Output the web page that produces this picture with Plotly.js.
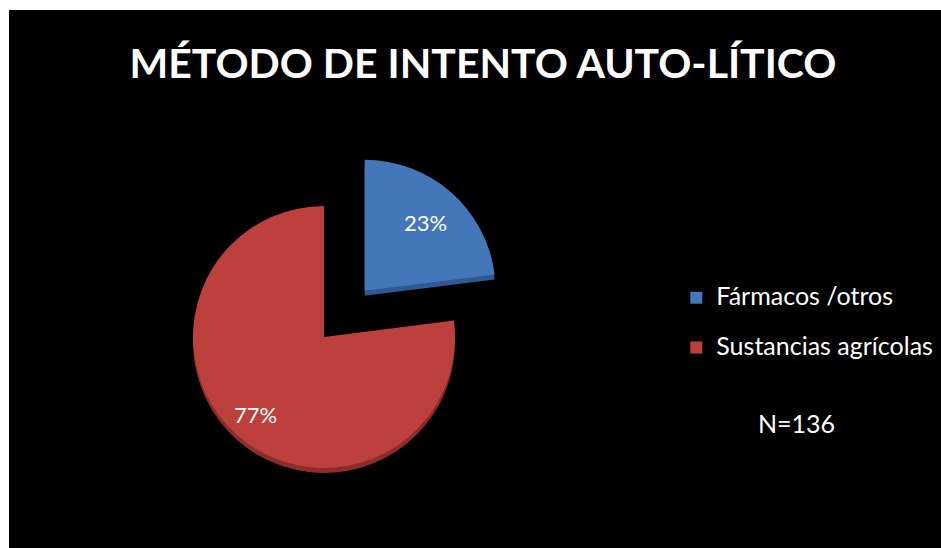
<!DOCTYPE html>
<html>
<head>
<meta charset="utf-8">
<script src="https://cdn.plot.ly/plotly-3.0.1.min.js"></script>
<style>
  html, body { margin: 0; padding: 0; background: #ffffff; width: 941px; height: 548px; overflow: hidden; }
  #chart { position: absolute; left: 9px; top: 10px; width: 932px; height: 538px; }
</style>
</head>
<body>
<div id="chart"></div>
<script>
// Data
const categories = ['Fármacos /otros', 'Sustancias agrícolas'];
const percentages = [23, 77];
const sliceColors = ['#4377BA', '#BD403C'];
const edgeColors = ['#2E5A92', '#8C2D2A'];
const pulls = [0.47, 0];
const chartTitle = 'MÉTODO DE INTENTO AUTO-LÍTICO';
const sampleNote = 'N=136';

const FONT = 'Lato, "Open Sans", "DejaVu Sans", sans-serif';
const W = 932, H = 538;
const dom = { x: [0.13136, 0.54458], y: [0.03426, 0.75013] };
const depthPx = 5;
const domDepth = { x: dom.x.slice(), y: [dom.y[0] - depthPx / H, dom.y[1] - depthPx / H] };

const legendLabels = categories.map(c => '<span style="font-size:25px">' + c + '</span><br>');

// 3D-like rim: same pie drawn slightly lower in darker colours
const depthTrace = {
  type: 'pie',
  labels: legendLabels,
  values: percentages,
  sort: false,
  direction: 'clockwise',
  rotation: 0,
  pull: pulls,
  marker: { colors: edgeColors, line: { width: 0 } },
  textinfo: 'none',
  domain: domDepth,
  showlegend: false,
  hoverinfo: 'none'
};

const trace = {
  type: 'pie',
  labels: legendLabels,
  values: percentages,
  sort: false,
  direction: 'clockwise',
  rotation: 0,
  pull: pulls,
  marker: { colors: sliceColors, line: { width: 0 } },
  textinfo: 'none',
  domain: dom,
  hoverinfo: 'none'
};

// percentage labels placed along each slice's mid-angle (computed from data)
const total = percentages.reduce((a, b) => a + b, 0);
const maxPull = Math.max(...pulls);
const r = Math.min(W * (dom.x[1] - dom.x[0]), H * (dom.y[1] - dom.y[0])) / 2 / (1 + maxPull);
const cx = W * (dom.x[0] + dom.x[1]) / 2;
const cy = H * (1 - (dom.y[0] + dom.y[1]) / 2);
const labelFrac = [0.70, 0.79];
let cum = 0;
const pctAnnotations = percentages.map((v, i) => {
  const mid = (cum + v / 2) / total * 2 * Math.PI;
  cum += v;
  const dx = Math.sin(mid), dy = -Math.cos(mid);
  const px = cx + (pulls[i] + labelFrac[i]) * r * dx;
  const py = cy + (pulls[i] + labelFrac[i]) * r * dy;
  return {
    text: Math.round(v / total * 100) + '%',
    xref: 'paper', yref: 'paper',
    x: px / W, y: 1 - py / H,
    xanchor: 'center', yanchor: 'middle',
    showarrow: false,
    font: { family: FONT, size: 22, color: '#ffffff' }
  };
});

const layout = {
  width: W,
  height: H,
  margin: { l: 0, r: 0, t: 0, b: 0 },
  paper_bgcolor: '#000000',
  plot_bgcolor: '#000000',
  title: {
    text: '<b>' + chartTitle + '</b>',
    font: { family: FONT, size: 41, color: '#ffffff' },
    x: 0.5086, xanchor: 'center',
    y: 0.9000, yanchor: 'middle'
  },
  showlegend: true,
  legend: {
    x: 0.716, xanchor: 'left',
    y: 0.499, yanchor: 'top',
    font: { family: FONT, size: 18, color: '#ffffff' },
    bgcolor: 'rgba(0,0,0,0)',
    valign: 'top',
    traceorder: 'normal'
  },
  annotations: pctAnnotations.concat([{
    text: sampleNote,
    xref: 'paper', yref: 'paper',
    x: (796 - 9) / W, y: 1 - (423 - 10) / H,
    xanchor: 'center', yanchor: 'middle',
    showarrow: false,
    font: { family: FONT, size: 25, color: '#ffffff' }
  }])
};

Plotly.newPlot('chart', [depthTrace, trace], layout, { displayModeBar: false, staticPlot: true });
</script>
</body>
</html>
